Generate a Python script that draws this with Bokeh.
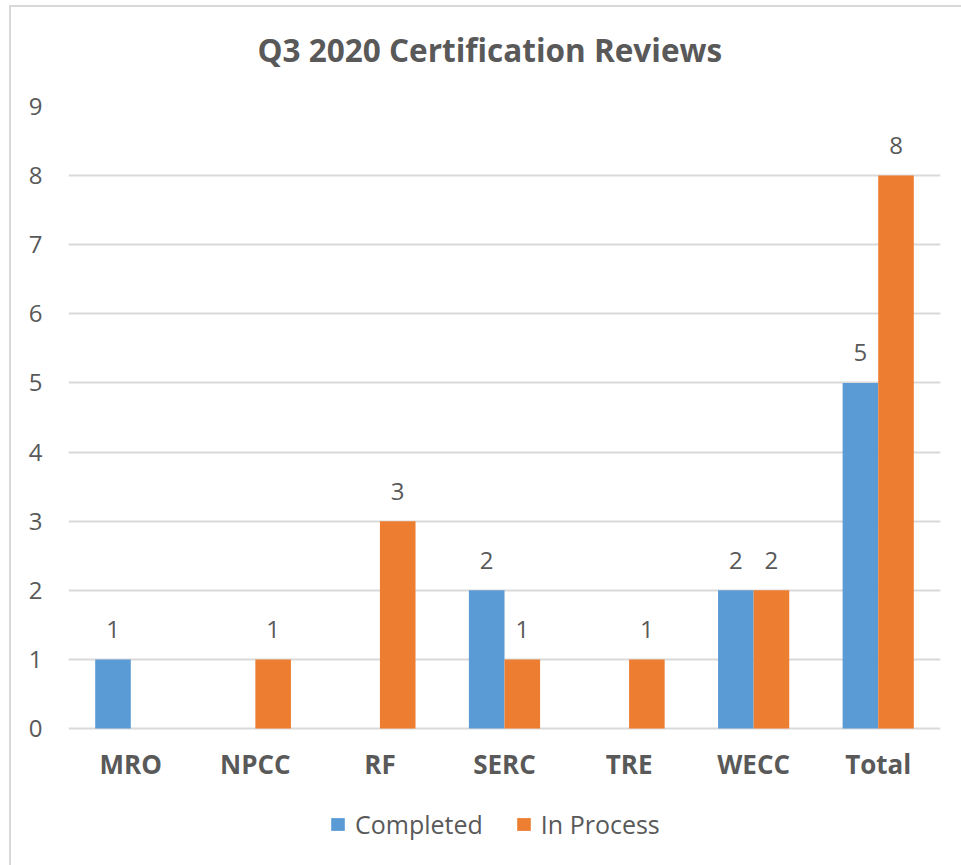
from bokeh.plotting import figure
from bokeh.models import ColumnDataSource, FactorRange, Range1d, Legend, LegendItem, FixedTicker, Title
from bokeh.transform import dodge
from bokeh.core.properties import value
from bokeh.embed import file_html
from bokeh.resources import INLINE

# ---- data ----
categories = ["MRO", "NPCC", "RF", "SERC", "TRE", "WECC", "Total"]
completed = [1, 0, 0, 2, 0, 2, 5]
in_process = [0, 1, 3, 1, 1, 2, 8]
series_names = ["Completed", "In Process"]
y_ticks = [0, 1, 2, 3, 4, 5, 6, 7, 8, 9]
title_text = "Q3 2020 Certification Reviews"

# ---- styles / layout ----
BLUE = "#5B9BD5"
ORANGE = "#ED7D31"
TEXT = "#595959"
GRID = "#D9D9D9"
FONT = "Open Sans"
BAR_W = 1 / 3.5
PLOT_H = 622          # px from the 0 gridline up to the top gridline
BELOW_H = 137         # px of room under the 0 gridline for labels and legend
Y_MAX = max(y_ticks)

src = ColumnDataSource(dict(cat=categories, completed=completed, in_process=in_process))

def label_source(vals):
    cats = [c for c, v in zip(categories, vals) if v > 0]
    vs = [v for v in vals if v > 0]
    return ColumnDataSource(dict(cat=cats, val=vs, txt=[str(v) for v in vs]))

p = figure(
    title=None,
    frame_width=872, frame_height=PLOT_H + BELOW_H,
    x_range=FactorRange(*categories, range_padding=0),
    y_range=Range1d(-Y_MAX * BELOW_H / PLOT_H, Y_MAX),
    output_backend="svg", toolbar_location=None,
    min_border_left=57, min_border_right=21, min_border_top=99, min_border_bottom=0,
)
p.outline_line_color = None
p.background_fill_color = "white"
p.border_fill_color = "white"
p.styles = {"margin-left": "9px", "margin-top": "5px",
            "border-left": "2px solid #D9D9D9", "border-top": "2px solid #D9D9D9"}

# spacer between frame and title, then the title itself
p.add_layout(Title(text=" ", text_font_size="1px", standoff=33), "above")
p.add_layout(Title(text=title_text, text_font=FONT, text_font_size="31.5px",
                   text_font_style="bold", text_color=TEXT, align="left",
                   offset=189, standoff=0), "above")

r1 = p.vbar(x=dodge("cat", -BAR_W / 2, range=p.x_range), top="completed", width=BAR_W,
            source=src, fill_color=BLUE, line_color=None)
r2 = p.vbar(x=dodge("cat", BAR_W / 2, range=p.x_range), top="in_process", width=BAR_W,
            source=src, fill_color=ORANGE, line_color=None)

for vals, off in ((completed, -BAR_W / 2), (in_process, BAR_W / 2)):
    p.text(x=dodge("cat", off, range=p.x_range), y="val", text="txt", source=label_source(vals),
           text_align="center", text_baseline="alphabetic", y_offset=-30,
           text_font=value(FONT), text_font_size="24px", text_color=TEXT)

# category labels under the baseline
p.text(x="cat", y=0, text="cat", source=src, text_align="center", text_baseline="middle",
       y_offset=35, text_font=value(FONT), text_font_size="26px", text_font_style="bold",
       text_color=TEXT)

# axes
p.yaxis.ticker = FixedTicker(ticks=y_ticks)
p.yaxis.axis_line_color = None
p.yaxis.major_tick_line_color = None
p.yaxis.major_tick_out = 0
p.yaxis.major_tick_in = 0
p.yaxis.minor_tick_line_color = None
p.yaxis.major_label_text_font = FONT
p.yaxis.major_label_text_font_size = "24px"
p.yaxis.major_label_text_color = TEXT
p.yaxis.major_label_standoff = 26
p.xaxis.visible = False

p.xgrid.grid_line_color = None
p.ygrid.ticker = FixedTicker(ticks=y_ticks)
p.ygrid.grid_line_color = GRID
p.ygrid.grid_line_width = 2

legend = Legend(
    items=[LegendItem(label=series_names[0], renderers=[r1]),
           LegendItem(label=series_names[1], renderers=[r2])],
    orientation="horizontal", location=(261, 24),
    label_text_font=FONT, label_text_font_size="25px", label_text_color=TEXT,
    glyph_width=17, glyph_height=16, label_standoff=9, spacing=32,
    border_line_color=None, background_fill_alpha=0, margin=0, padding=6,
)
p.add_layout(legend, "center")

open("out.html", "w").write(file_html(p, INLINE))
